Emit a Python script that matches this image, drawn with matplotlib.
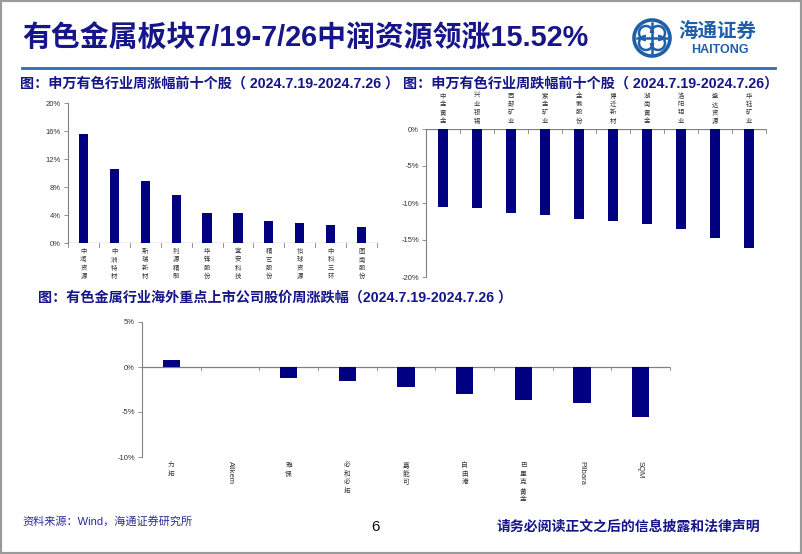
import matplotlib
matplotlib.use('Agg')
import matplotlib.pyplot as plt
import matplotlib.transforms as mtransforms
from matplotlib.patches import Circle, Rectangle, Arc

plt.rcParams['font.family'] = ['Liberation Sans', 'Noto Sans CJK SC', 'DejaVu Sans']

# 申万有色行业周涨幅前十个股
up_names = ['中润资源', '中洲特材', '斯瑞新材', '利源精制', '华锋股份',
            '宜安科技', '精艺股份', '怡球资源', '中科三环', '图南股份']
up_values = [15.52, 10.6, 8.9, 6.8, 4.35, 4.3, 3.1, 2.8, 2.55, 2.25]

# 申万有色行业周跌幅前十个股
down_names = ['中金黄金', '兴业银锡', '西部矿业', '紫金矿业', '金徽股份',
              '博迁新材', '湖南黄金', '洛阳钼业', '盛达资源', '华钰矿业']
down_values = [-10.5, -10.7, -11.3, -11.6, -12.1, -12.4, -12.9, -13.5, -14.7, -16.1]

# 海外重点上市公司
world_names = ['力拓', 'Allkem', '雅保', '必和必拓', '嘉能可',
               '自由港', '巴里克黄金', 'Pilbara', 'SQM']
world_values = [0.8, 0.0, -1.2, -1.55, -2.2, -3.0, -3.7, -4.0, -5.6]

W, H = 802, 554
NAVY = '#16168a'
BAR = '#000080'
AX = '#808080'

fig = plt.figure(figsize=(W / 100, H / 100), dpi=100)
fig.patch.set_facecolor('white')


def rect(x0, y0, x1, y1):
    # пиксели (сверху-слева) -> доли фигуры
    return [x0 / W, 1 - y1 / H, (x1 - x0) / W, (y1 - y0) / H]


def fx(x):
    return x / W


def fy(y):
    return 1 - y / H


def is_latin(s):
    return all(ord(c) < 128 for c in s)


def style_axes(ax, ticks, fmt):
    for s in ['top', 'right', 'bottom']:
        ax.spines[s].set_visible(False)
    ax.spines['left'].set_color(AX)
    ax.spines['left'].set_linewidth(0.8)
    ax.set_yticks(ticks)
    ax.set_yticklabels([fmt(t) for t in ticks], fontsize=5.5, color='#333333')
    ax.tick_params(axis='y', length=3, width=0.6, color=AX, pad=2)
    ax.set_xticks([])
    ax.axhline(0, color=AX, lw=0.9, zorder=1)
    ax.patch.set_alpha(0)


def cat_ticks(ax, n, direction=-1, size=0.025):
    # засечки между категориями
    tr = mtransforms.blended_transform_factory(ax.transData, ax.transAxes)
    ylim = ax.get_ylim()
    y0 = (0 - ylim[0]) / (ylim[1] - ylim[0])
    for i in range(n + 1):
        ax.plot([i - 0.5, i - 0.5], [y0, y0 + direction * size], color=AX,
                lw=0.6, transform=tr, clip_on=False)


# ---- левый график ----
ax1 = fig.add_axes(rect(68, 103, 377, 243))
x1 = list(range(len(up_names)))
ax1.bar(x1, up_values, width=0.3, color=BAR, zorder=2)
ax1.set_xlim(-0.5, len(up_names) - 0.5)
ax1.set_ylim(0, 20)
style_axes(ax1, [0, 4, 8, 12, 16, 20], lambda t: f'{t:.0f}%')
cat_ticks(ax1, len(up_names), -1, 0.03)
tr1 = mtransforms.blended_transform_factory(ax1.transData, ax1.transAxes)
for i, name in enumerate(up_names):
    ax1.text(i, -0.03, '\n'.join(name), transform=tr1, ha='center', va='top',
             fontsize=4.6, color='#333333', linespacing=1.05,
             family=['Noto Sans CJK SC'])

# ---- правый график ----
ax2 = fig.add_axes(rect(426, 129, 766, 277))
x2 = list(range(len(down_names)))
ax2.bar(x2, down_values, width=0.32, color=BAR, zorder=2)
ax2.set_xlim(-0.5, len(down_names) - 0.5)
ax2.set_ylim(-20, 0)
style_axes(ax2, [0, -5, -10, -15, -20], lambda t: f'{t:.0f}%')
cat_ticks(ax2, len(down_names), -1, 0.025)
tr2 = mtransforms.blended_transform_factory(ax2.transData, ax2.transAxes)
for i, name in enumerate(down_names):
    ax2.text(i, 1.03, '\n'.join(name), transform=tr2, ha='center', va='bottom',
             fontsize=4.6, color='#333333', linespacing=1.05,
             family=['Noto Sans CJK SC'])

# ---- нижний график ----
ax3 = fig.add_axes(rect(142, 322, 670, 457))
x3 = list(range(len(world_names)))
ax3.bar(x3, world_values, width=0.3, color=BAR, zorder=2)
ax3.set_xlim(-0.5, len(world_names) - 0.5)
ax3.set_ylim(-10, 5)
style_axes(ax3, [5, 0, -5, -10], lambda t: f'{t:.0f}%')
cat_ticks(ax3, len(world_names), -1, 0.025)
tr3 = mtransforms.blended_transform_factory(ax3.transData, ax3.transAxes)
for i, name in enumerate(world_names):
    if is_latin(name):
        ax3.text(i, -0.03, name, transform=tr3, ha='center', va='top',
                 fontsize=5.5, color='#333333', rotation=-90)
    else:
        ax3.text(i, -0.03, '\n'.join(name), transform=tr3, ha='center', va='top',
                 fontsize=4.8, color='#333333', linespacing=1.1,
                 family=['Noto Sans CJK SC'])

# ---- заголовки и подписи ----
fig.text(fx(22), fy(39), '有色金属板块7/19-7/26中润资源领涨15.52%', fontsize=20.8,
         fontweight='bold', color=NAVY, va='center', ha='left')
fig.add_artist(plt.Line2D([fx(22), fx(775)], [fy(68), fy(68)], color='#2e6db4', lw=2))

sub = dict(fontsize=10.2, fontweight='bold', color=NAVY, va='center', ha='left')
fig.text(fx(20), fy(84), '图：申万有色行业周涨幅前十个股（ 2024.7.19-2024.7.26 ）', **sub)
fig.text(fx(403), fy(84), '图：申万有色行业周跌幅前十个股（ 2024.7.19-2024.7.26）', **sub)
fig.text(fx(38), fy(298), '图：有色金属行业海外重点上市公司股价周涨跌幅（2024.7.19-2024.7.26 ）', **sub)

fig.text(fx(22), fy(521), '资料来源：Wind，海通证券研究所', fontsize=8, color='#2b2b9a',
         va='center', ha='left')
fig.text(fx(375), fy(527), '6', fontsize=11, color='#111111', va='center', ha='center')
fig.text(fx(497), fy(527), '请务必阅读正文之后的信息披露和法律声明', fontsize=10,
         fontweight='bold', color=NAVY, va='center', ha='left')

# ---- логотип ----
logo = fig.add_axes(rect(632, 18, 672, 58))
logo.set_xlim(-1, 1)
logo.set_ylim(-1, 1)
logo.set_aspect('equal')
logo.axis('off')
LOGO = '#1f5fa8'
logo.add_patch(Circle((0, 0), 0.9, fill=False, lw=2.6, color=LOGO))
logo.add_patch(Arc((-0.3, 0.25), 0.7, 0.7, theta1=0, theta2=270, lw=1.8, color=LOGO))
logo.add_patch(Arc((0.3, 0.25), 0.7, 0.7, theta1=-90, theta2=180, lw=1.8, color=LOGO))
logo.add_patch(Arc((-0.3, -0.25), 0.7, 0.7, theta1=90, theta2=360, lw=1.8, color=LOGO))
logo.add_patch(Arc((0.3, -0.25), 0.7, 0.7, theta1=180, theta2=450, lw=1.8, color=LOGO))
logo.plot([0, 0], [-0.75, 0.75], color=LOGO, lw=1.8)
logo.plot([-0.75, 0.75], [0, 0], color=LOGO, lw=1.8)

fig.text(fx(678), fy(32), '海通证券', fontsize=14, fontweight='bold', color=LOGO,
         va='center', ha='left', family=['Noto Sans CJK SC'], style='italic')
fig.text(fx(720), fy(50), 'HAITONG', fontsize=9, fontweight='bold', color=LOGO,
         va='center', ha='center')

# рамка
fig.add_artist(Rectangle((0, 0), 1, 1, transform=fig.transFigure, fill=False,
                         edgecolor='#9a9a9a', lw=3))

fig.savefig('out.png', dpi=100)
plt.close()
